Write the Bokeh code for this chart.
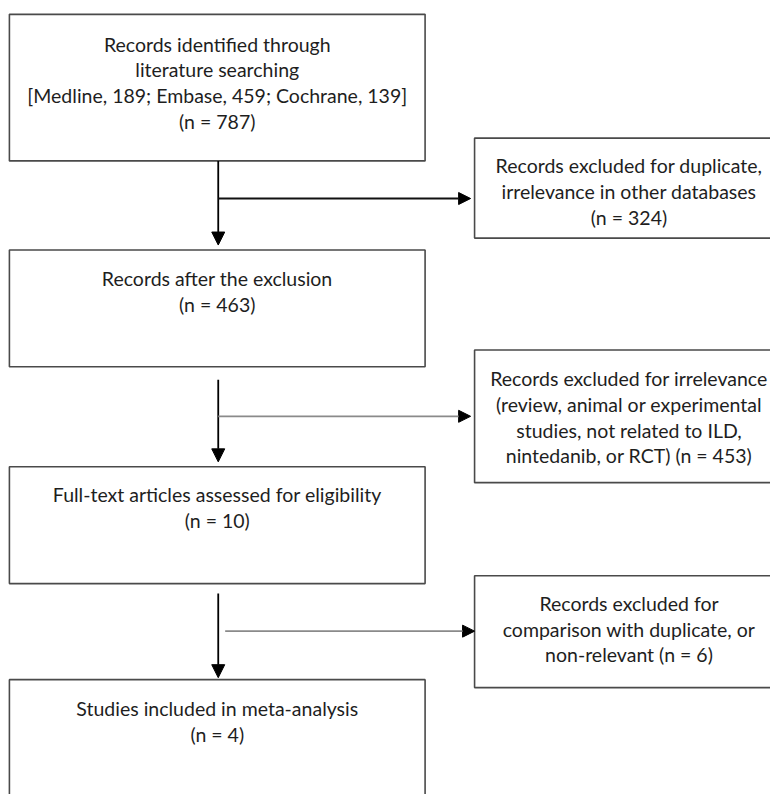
from bokeh.plotting import figure
from bokeh.models import Range1d, Arrow, NormalHead
from bokeh.core.properties import value
from bokeh.embed import file_html
from bokeh.resources import INLINE

# ---- content ----
main_lines = [
    ["Records identified through", "literature searching",
     "[Medline, 189; Embase, 459; Cochrane, 139]", "(n = 787)"],
    ["Records after the exclusion", "(n = 463)"],
    ["Full-text articles assessed for eligibility", "(n = 10)"],
    ["Studies included in meta-analysis", "(n = 4)"],
]
side_lines = [
    ["Records excluded for duplicate,", "irrelevance in other databases", "(n = 324)"],
    ["Records excluded for irrelevance", "(review, animal or experimental",
     "studies, not related to ILD,", "nintedanib, or RCT) (n = 453)"],
    ["Records excluded for", "comparison with duplicate, or", "non-relevant (n = 6)"],
]

# ---- layout (pixel coordinates of the reference) ----
main_boxes = [(9, 429, 14, 162), (9, 429, 252, 370), (9, 429, 471, 589), (9, 429, 686, 830)]
main_text_top = [44, 281, 499, 715]
main_cx = 219
side_boxes = [(479, 800, 139, 240), (479, 800, 353, 487), (479, 800, 581, 694)]
side_text_top = [167, 382, 609]
side_cx = 635
line_step = 26
down_arrows = [(220, 162, 247), (220, 383, 466), (220, 599, 684)]
side_arrows = [(220, 200, 475, "#111111"), (220, 420, 475, "#8a8a8a"), (227, 637, 479, "#8a8a8a")]

FONT = "Lato"
p = figure(width=770, height=794, output_backend="svg", toolbar_location=None,
           x_range=Range1d(0, 778), y_range=Range1d(802, 0),
           min_border=0, outline_line_color=None)
p.axis.visible = False
p.grid.visible = False
p.background_fill_color = "white"
p.border_fill_color = "white"

# boxes
allb = main_boxes + side_boxes
p.quad(left=[b[0] for b in allb], right=[b[1] for b in allb],
       top=[b[2] for b in allb], bottom=[b[3] for b in allb],
       fill_color="white", line_color="#4a4a4a", line_width=1.6)

# texts
xs, ys, ts = [], [], []
for lines, y0 in zip(main_lines, main_text_top):
    for i, t in enumerate(lines):
        xs.append(main_cx); ys.append(y0 + i * line_step); ts.append(t)
for lines, y0 in zip(side_lines, side_text_top):
    for i, t in enumerate(lines):
        xs.append(side_cx); ys.append(y0 + i * line_step); ts.append(t)
p.text(x=xs, y=ys, text=ts, text_font=value(FONT), text_font_size="19.5px",
       text_color="#1e1e1e", text_align="center", text_baseline="middle")

# connectors
for x0, y0, y1 in down_arrows:
    p.add_layout(Arrow(end=NormalHead(size=13, fill_color="black", line_color="black", line_width=1),
                       x_start=x0, y_start=y0, x_end=x0, y_end=y1,
                       line_color="black", line_width=1.8))
for x0, y0, x1, c in side_arrows:
    p.add_layout(Arrow(end=NormalHead(size=12, fill_color="black", line_color="black", line_width=1),
                       x_start=x0, y_start=y0, x_end=x1, y_end=y0,
                       line_color=c, line_width=1.8))

open("out.html", "w").write(file_html(p, INLINE))
